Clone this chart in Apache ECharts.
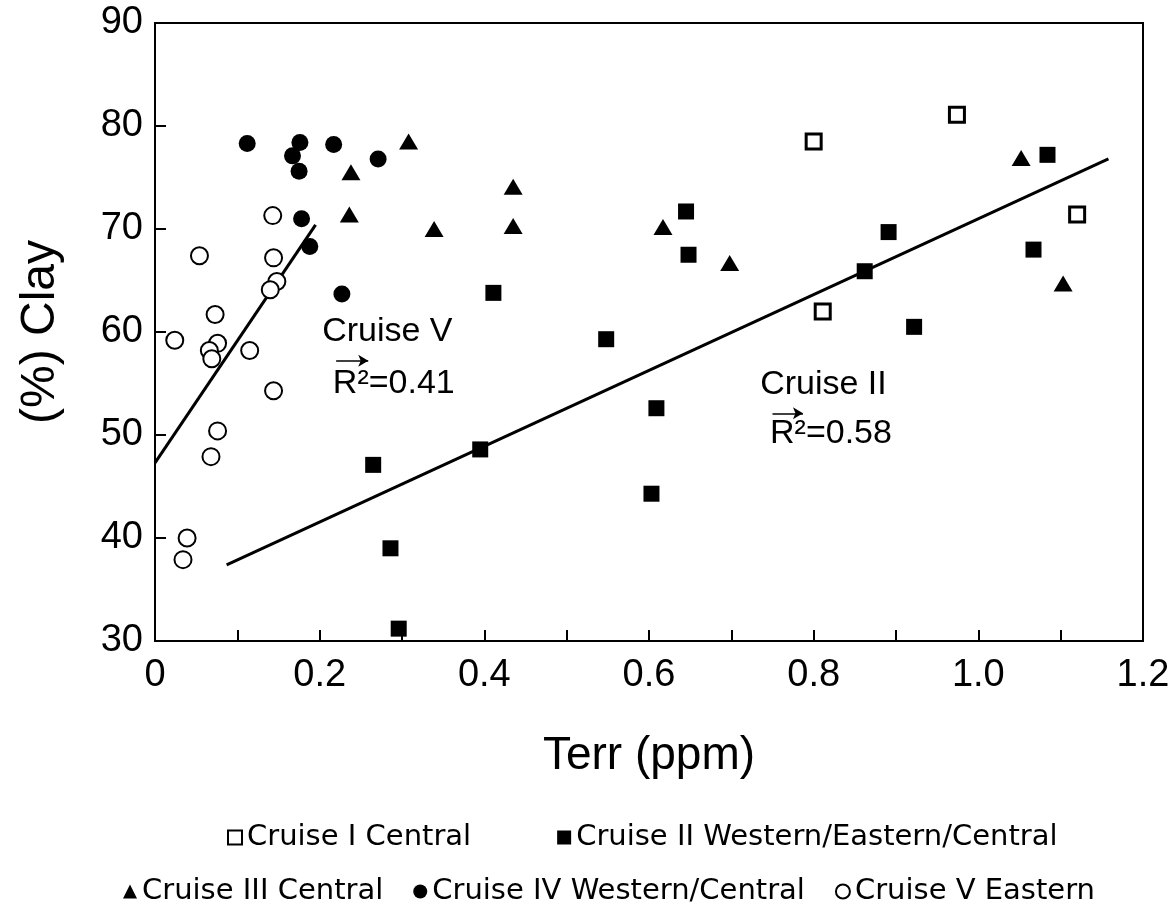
<!DOCTYPE html>
<html><head><meta charset="utf-8">
<script src="https://cdn.jsdelivr.net/npm/echarts@6/dist/echarts.min.js"></script>
<style>html,body{margin:0;padding:0;background:#fff}#c{width:1176px;height:909px}</style>
</head><body><div id="c"></div>
<script>
// ---- data (Terr ppm, % Clay) ----
const cruiseI = [[0.800,78.5],[0.974,81.1],[1.120,71.4],[0.811,62.0]];
const cruiseII = [[0.265,47.1],[0.286,39.0],[0.296,31.2],[0.395,48.6],[0.411,63.8],[0.548,59.3],[0.609,52.6],[0.603,44.3],[0.645,71.7],[0.648,67.5],[0.862,65.9],[0.891,69.7],[0.922,60.5],[1.067,68.0],[1.084,77.2]];
const cruiseIII = [[0.308,78.5],[0.238,75.5],[0.236,71.4],[0.339,70.0],[0.435,74.1],[0.435,70.3],[0.617,70.2],[0.698,66.7],[1.052,76.9],[1.103,64.7]];
const cruiseIV = [[0.112,78.3],[0.176,78.4],[0.167,77.1],[0.175,75.6],[0.217,78.2],[0.271,76.8],[0.178,71.0],[0.188,68.3],[0.227,63.7]];
const cruiseV = [[0.143,71.3],[0.054,67.4],[0.144,67.2],[0.148,64.9],[0.140,64.1],[0.073,61.7],[0.024,59.2],[0.076,58.9],[0.066,58.2],[0.069,57.4],[0.115,58.2],[0.144,54.3],[0.076,50.4],[0.068,47.9],[0.039,40.0],[0.034,37.9]];
const fitV = [[0.0,47.3],[0.195,70.4]];
const fitII = [[0.087,37.4],[1.158,76.8]];
const seriesNames = ['Cruise I Central','Cruise II Western/Eastern/Central','Cruise III Central','Cruise IV Western/Central','Cruise V Eastern'];
const annotTexts = [['Cruise V',0.203,60.0],['R\u00b2=0.41',0.216,55.0],['Cruise II',0.735,54.85],['R\u00b2=0.58',0.747,50.1]];
const annotArrows = [[[0.220,57.2],[0.259,57.2]],[[0.750,52.1],[0.787,52.1]]];
const xTitle = 'Terr (ppm)';
const yTitle = '(%) Clay';

const FONT = "'Liberation Sans', Arial, Helvetica, sans-serif";
const LFONT = "'DejaVu Sans', 'Liberation Sans', sans-serif";
const chart = echarts.init(document.getElementById('c'), null, {renderer:'canvas'});
const txt = {color:'#000', fontFamily:FONT};
const ltxt = {color:'#000', fontFamily:LFONT, fontSize:29};

const pts = (name, data, symbol, size, style) => ({
  name, type:'scatter', data, symbol, symbolSize:size, itemStyle:Object.assign({opacity:1}, style), z:5,
  emphasis:{disabled:true}
});
const fit = (data) => ({type:'line', data, symbol:'none', silent:true, z:3,
  lineStyle:{color:'#000', width:3, opacity:1}});

const option = {
  animation:false,
  backgroundColor:'#fff',
  grid:{left:155, right:33, top:23, bottom:268, show:true, borderColor:'#000', borderWidth:2},
  xAxis:{type:'value', min:0, max:1.2, interval:0.2,
    name:xTitle, nameLocation:'middle', nameGap:92,
    nameTextStyle:Object.assign({fontSize:46}, txt),
    axisLine:{show:true, onZero:false, lineStyle:{color:'#000', width:2}},
    axisTick:{show:true, inside:true, length:11, lineStyle:{color:'#000', width:2}},
    minorTick:{show:true, splitNumber:2, length:11, lineStyle:{color:'#000', width:2}},
    splitLine:{show:false},
    axisLabel:Object.assign({fontSize:38, margin:16, formatter:v=> v===0?'0':v.toFixed(1)}, txt)
  },
  yAxis:{type:'value', min:30, max:90, interval:10,
    name:yTitle, nameLocation:'middle', nameGap:90, nameRotate:90,
    nameTextStyle:Object.assign({fontSize:48}, txt),
    axisLine:{show:true, onZero:false, lineStyle:{color:'#000', width:2}},
    axisTick:{show:true, inside:true, length:11, lineStyle:{color:'#000', width:2}},
    splitLine:{show:false},
    axisLabel:Object.assign({fontSize:38, margin:12}, txt)
  },
  legend:[
    {data:seriesNames.slice(0,2), top:818, left:222, itemGap:86, itemWidth:14, itemHeight:14,
     textStyle:ltxt, selectedMode:false},
    {data:seriesNames.slice(2), top:872, left:118, itemGap:30, itemWidth:14, itemHeight:14,
     textStyle:ltxt, selectedMode:false}
  ],
  series:[
    fit(fitV), fit(fitII),
    pts(seriesNames[0], cruiseI, 'rect', 15, {color:'#fff', borderColor:'#000', borderWidth:3}),
    pts(seriesNames[1], cruiseII, 'rect', 16, {color:'#000'}),
    pts(seriesNames[2], cruiseIII, 'triangle', [19,16], {color:'#000'}),
    pts(seriesNames[3], cruiseIV, 'circle', 17, {color:'#000'}),
    pts(seriesNames[4], cruiseV, 'circle', 17, {color:'#fff', borderColor:'#000', borderWidth:2}),
    {type:'scatter', silent:true, symbolSize:0, z:6, itemStyle:{opacity:1},
     data:annotTexts.map(a=>({name:a[0], value:[a[1],a[2]]})),
     label:Object.assign({show:true, position:[0,0], align:'left', verticalAlign:'middle', fontSize:34,
       opacity:1, formatter:p=>p.name}, txt),
     markLine:{silent:true, symbol:['none','arrow'], symbolSize:[9,10],
       lineStyle:{color:'#000', width:1.5, type:'solid', opacity:1}, label:{show:false},
       data:annotArrows.map(a=>[{coord:a[0]},{coord:a[1]}])}
    }
  ]
};
chart.setOption(option);
</script></body></html>
